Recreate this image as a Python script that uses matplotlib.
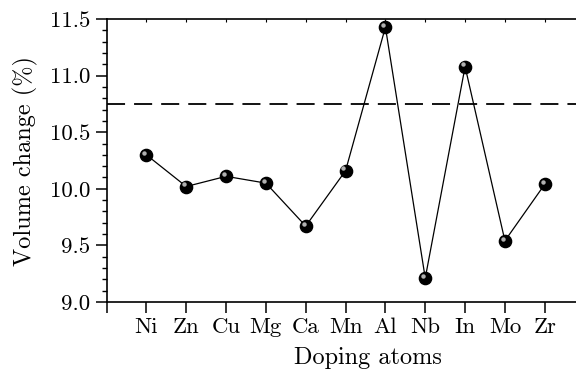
import matplotlib
matplotlib.use("Agg")
import matplotlib.pyplot as plt
import matplotlib.transforms as mtransforms
from matplotlib.ticker import MultipleLocator

atomi = ["Ni", "Zn", "Cu", "Mg", "Ca", "Mn", "Al", "Nb", "In", "Mo", "Zr"]
variazione = [10.30, 10.02, 10.11, 10.05, 9.67, 10.16, 11.43, 9.21, 11.08, 9.54, 10.04]
riferimento = 10.75  # linea tratteggiata

plt.rcParams["font.family"] = "serif"
plt.rcParams["font.serif"] = ["cmr10", "DejaVu Serif"]
plt.rcParams["mathtext.fontset"] = "cm"
plt.rcParams["axes.formatter.use_mathtext"] = True

fig = plt.figure(figsize=(5.76, 3.69), dpi=100)
# l'asse continua oltre il bordo destro (figura ritagliata)
ax = fig.add_axes([0.185, 0.182, 0.906, 0.766])

pos = list(range(1, len(atomi) + 1))
ax.plot(pos, variazione, color="black", lw=0.9, zorder=2)
ax.plot(pos, variazione, "o", color="black", ms=8.8, zorder=3)
# riflesso per fare le sfere
off = mtransforms.ScaledTranslation(-1.6 / 72, 1.6 / 72, fig.dpi_scale_trans)
ax.plot(pos, variazione, "o", color="#b0b0b0", ms=3.2, mec="none",
        transform=ax.transData + off, zorder=4)

ax.axhline(riferimento, color="black", lw=1.3, dashes=(10, 5), zorder=1)

ax.set_xlim(0, 13.1)
ax.set_ylim(9.0, 11.5)
ax.set_xticks([0] + pos)
ax.set_xticklabels([""] + atomi)
ax.yaxis.set_major_locator(MultipleLocator(0.5))
ax.yaxis.set_minor_locator(MultipleLocator(0.1))
ax.yaxis.set_major_formatter(matplotlib.ticker.FormatStrFormatter("%.1f"))

ax.tick_params(axis="both", which="major", direction="out", length=8, width=1.1,
               labelsize=16.5)
ax.tick_params(axis="y", which="minor", direction="out", length=3.5, width=1.0)
ax.spines["right"].set_visible(False)
for s in ["left", "bottom", "top"]:
    ax.spines[s].set_linewidth(1.2)

# tacche piccole sul bordo superiore
sopra = ax.secondary_xaxis("top")
sopra.set_xticks(pos)
sopra.tick_params(direction="in", length=2.5, width=0.8, labeltop=False)
sopra.spines["top"].set_visible(False)

ax.set_xlabel("Doping atoms", fontsize=17.5, labelpad=7)
ax.set_ylabel("Volume change (%)", fontsize=17.5, labelpad=9)

plt.savefig("out.png", dpi=100)
